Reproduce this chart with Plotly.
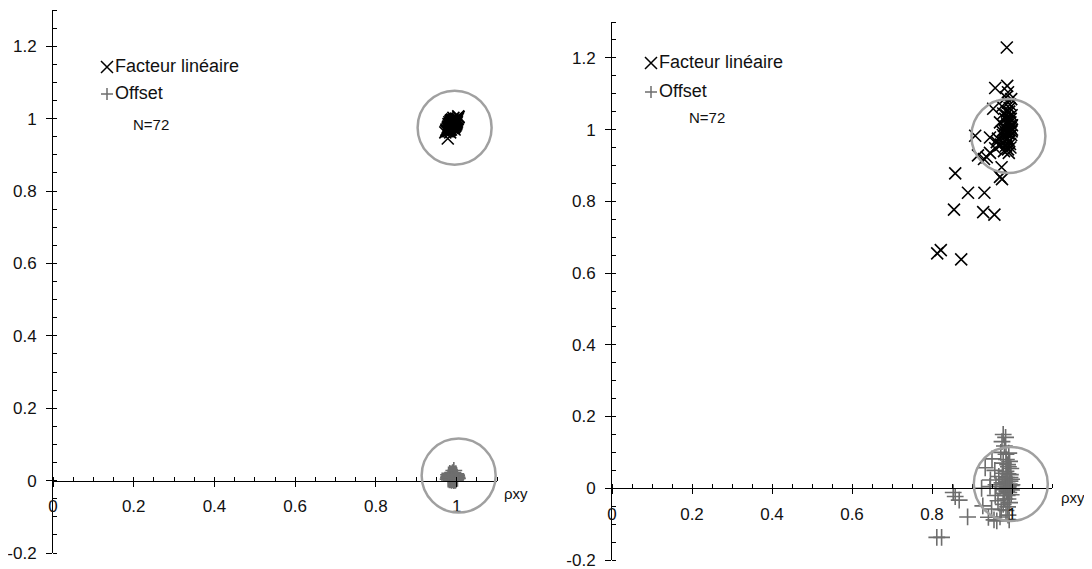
import plotly.graph_objects as go

# ---------------- data ----------------
left_fact_x = [0.978,
    0.972,0.976,0.980,0.983,0.986,0.989,0.992,0.995,0.998,1.001,
    0.978,0.982,0.985,0.988,0.991,0.994,0.997,1.000,1.003,1.005,
    0.980,0.984,0.987,0.990,0.993,0.996,0.999,0.986,0.989,0.992,
    0.975,0.979,0.983,0.987,0.990,0.993,0.996,0.999,0.981,0.984,
    0.987,0.990,0.993,0.996,0.985,0.988,0.991,0.994,0.997,1.000,
    0.982,0.985,0.988,0.991,0.994,0.997,0.979,0.983,0.986,0.989,
    0.992,0.995,0.998,1.002,0.977,0.974,0.981,0.984,0.995,1.004,0.990]
left_fact_y = [0.945,
    0.962,0.968,0.965,0.972,0.970,0.975,0.978,0.982,0.988,0.992,
    0.975,0.978,0.980,0.983,0.985,0.987,0.990,0.995,1.000,1.004,
    0.985,0.988,0.990,0.992,0.995,0.998,1.000,0.995,0.998,1.002,
    0.970,0.972,0.968,0.976,0.980,0.975,0.979,0.984,0.982,0.985,
    0.986,0.988,0.990,0.993,0.977,0.979,0.982,0.984,0.986,0.989,
    0.990,0.993,0.996,0.974,0.976,0.981,0.978,0.975,0.983,0.987,
    0.991,0.994,0.997,0.998,0.965,0.966,0.970,0.962,0.970,1.006,0.994]

left_off_x = [0.979,0.982,0.985,0.988,0.991,0.994,0.997,1.000,0.983,0.986,
    0.989,0.992,0.995,0.998,0.981,0.984,0.987,0.990,0.993,0.996,
    0.999,0.980,0.983,0.986,0.989,0.992,0.995,0.998,1.001,0.985,
    0.988,0.991,0.994,0.997,0.982,0.987,0.990,0.993,0.996,0.999,
    0.984,0.986,0.989,0.992,0.995,0.998,0.981,0.988,0.991,0.994,
    0.997,0.985,0.990,0.993,0.996,0.983,0.987,0.992,0.995,0.990,
    0.986,0.989,0.994,0.997,0.999,0.984,0.988,0.991,0.993,0.980,0.996,1.002]
left_off_y = [0.004,0.008,0.003,0.010,0.006,0.012,0.008,0.014,0.014,0.018,
    0.015,0.020,0.017,0.011,0.011,0.006,0.001,0.003,0.000,0.004,
    0.006,0.016,0.020,0.012,0.008,0.013,0.009,0.019,0.009,0.009,
    0.005,0.017,0.002,0.015,0.002,0.013,0.011,0.007,0.010,0.016,
    0.016,0.007,0.019,0.004,0.013,0.003,0.007,0.016,0.009,0.018,
    0.012,0.011,0.014,0.016,0.007,0.010,0.004,0.010,0.005,0.022,
    0.015,0.002,0.009,0.001,0.011,0.012,0.008,0.012,0.028,0.009,0.016,0.006]

right_fact_x = [0.987,0.958,0.988,0.990,0.953,0.908,0.945,0.915,0.937,0.858,
    0.974,0.970,0.975,0.890,0.931,0.855,0.928,0.956,0.813,0.822,
    0.873,0.930,0.945,0.958,0.972,0.965,0.978,0.985,0.990,0.995,
    0.982,0.990,0.998,0.975,0.985,0.992,1.000,0.980,0.988,0.996,
    0.970,0.983,0.991,0.999,0.978,0.987,0.994,0.975,0.990,0.998,
    0.985,0.993,0.987,0.997,0.981,0.994,0.989,0.977,0.968,0.996,
    0.992,0.984,0.999,0.990,0.986,0.995,0.980,0.962,0.997,0.993,0.988,1.000]
right_fact_y = [1.229,1.116,1.122,1.104,1.058,0.983,0.978,0.928,0.923,0.878,
    0.895,0.868,0.862,0.824,0.824,0.777,0.770,0.763,0.655,0.664,
    0.638,0.918,0.935,0.948,0.958,0.975,0.965,0.955,0.945,0.960,
    0.980,0.975,0.985,0.995,0.990,0.998,1.000,1.010,1.015,1.020,
    1.020,1.030,1.035,1.040,1.045,1.050,1.060,1.065,1.075,1.085,
    1.090,0.968,0.972,1.005,0.998,1.010,1.025,0.985,0.955,0.950,
    0.935,1.002,0.995,0.990,1.040,1.070,0.940,0.965,1.030,1.050,0.962,1.012]

right_off_x = [0.812,0.824,0.853,0.858,0.868,0.889,0.924,0.927,0.949,0.941,
    0.962,0.955,0.970,0.933,0.950,0.957,0.946,0.967,0.978,0.984,
    0.975,0.981,0.972,0.992,0.989,0.986,0.978,0.985,0.990,0.995,
    0.980,0.988,0.993,0.998,0.984,0.990,0.996,0.979,0.987,0.992,
    0.999,0.983,0.995,0.975,0.970,0.988,0.990,0.994,0.989,0.990,
    0.985,0.978,0.965,0.958,0.997,1.000,0.999,0.986,0.991,0.976,
    0.982,0.993,0.960,0.945,0.998,0.985,0.994,0.987,0.991,0.981,0.996,0.973]
right_off_y = [-0.137,-0.137,-0.012,-0.023,-0.033,-0.080,0.000,-0.049,-0.058,-0.081,
    -0.091,-0.088,-0.080,0.057,0.082,0.050,0.023,0.033,0.150,0.142,
    0.130,0.118,0.100,0.098,0.066,0.080,0.070,0.047,0.040,0.030,
    0.025,0.018,0.012,0.008,0.005,0.002,-0.002,-0.004,-0.008,-0.012,
    -0.005,0.012,0.020,0.015,0.005,-0.020,-0.030,-0.040,-0.052,-0.075,
    -0.062,-0.045,-0.035,-0.020,0.055,0.010,0.025,0.030,0.060,0.042,
    -0.030,-0.088,0.010,0.005,-0.018,0.095,0.075,0.000,0.005,-0.015,0.038,-0.060]

# circles (centre in data units) drawn around the clusters
left_circles = [(0.995, 0.975), (1.005, 0.014)]
right_circles = [(0.991, 0.982), (0.997, 0.012)]

x_tickvals = [0, 0.2, 0.4, 0.6, 0.8, 1.0]
x_ticktext = ["0", "0.2", "0.4", "0.6", "0.8", "1"]
y_tickvals = [-0.2, 0, 0.2, 0.4, 0.6, 0.8, 1.0, 1.2]
y_ticktext = ["-0.2", "0", "0.2", "0.4", "0.6", "0.8", "1", "1.2"]

series_names = ["Facteur linéaire", "Offset"]
n_label = "N=72"
axis_label = "ρxy"

# ---------------- figure ----------------
# the page body has an 8px margin, so the figure is drawn 8px smaller and
# all layout pixel positions below are given in window pixels minus 8.
OFF = 8
W, H = 1092 - OFF, 569 - OFF
FONT = "Liberation Sans, Arial, sans-serif"
X_COLOR = "#000000"
P_COLOR = "#6e6e6e"
C_COLOR = "#a0a0a0"

fig = go.Figure()

def add_panel(fx, fy, ox, oy, xa, ya):
    fig.add_trace(go.Scatter(x=fx, y=fy, mode="markers", xaxis=xa, yaxis=ya,
                             name=series_names[0], showlegend=False,
                             marker=dict(symbol="x-thin", size=12, color=X_COLOR,
                                         line=dict(width=1.6, color=X_COLOR))))
    fig.add_trace(go.Scatter(x=ox, y=oy, mode="markers", xaxis=xa, yaxis=ya,
                             name=series_names[1], showlegend=False,
                             marker=dict(symbol="cross-thin", size=12, color=P_COLOR,
                                         line=dict(width=1.6, color=P_COLOR))))

add_panel(left_fact_x, left_fact_y, left_off_x, left_off_y, "x", "y")
add_panel(right_fact_x, right_fact_y, right_off_x, right_off_y, "x2", "y2")

def px2x(p):
    return (p - OFF) / W

def py2y(p):
    return 1 - (p - OFF) / H

def xaxis_cfg(dom, pos):
    return dict(domain=dom, range=[0, 1.1], anchor="free", position=pos,
                showline=True, linecolor="black", linewidth=1, showgrid=False,
                zeroline=False, tickmode="array", tickvals=x_tickvals, ticktext=x_ticktext,
                ticks="outside", ticklen=5, tickwidth=1, tickcolor="black",
                ticklabelstandoff=5, ticklabeloverflow="allow",
                tickfont=dict(family=FONT, size=17, color="#111"),
                minor=dict(ticks="inside", ticklen=4, tickwidth=1, tickcolor="black",
                           tickmode="linear", tick0=0, dtick=0.05, showgrid=False),
                automargin=False, fixedrange=True)

def yaxis_cfg(dom, anchor):
    return dict(domain=dom, range=[-0.2, 1.3], anchor=anchor,
                showline=True, linecolor="black", linewidth=1, showgrid=False,
                zeroline=False, tickmode="array", tickvals=y_tickvals, ticktext=y_ticktext,
                ticks="outside", ticklen=6, tickwidth=1, tickcolor="black",
                ticklabelstandoff=6, ticklabeloverflow="allow",
                tickfont=dict(family=FONT, size=17, color="#111"),
                minor=dict(ticks="inside", ticklen=4, tickwidth=1, tickcolor="black",
                           tickmode="linear", tick0=0, dtick=0.05, showgrid=False),
                automargin=False, fixedrange=True)

# window pixels: left panel x 53..497, y 553..10 ; right x 612..1052, y 560..22
fig.update_layout(
    width=W, height=H,
    margin=dict(l=0, r=0, t=0, b=0),
    paper_bgcolor="white", plot_bgcolor="rgba(0,0,0,0)",
    showlegend=False,
    xaxis=xaxis_cfg([px2x(53), px2x(497)], py2y(480.6)),
    yaxis=yaxis_cfg([py2y(553), py2y(10)], "x"),
    xaxis2=xaxis_cfg([px2x(612), px2x(1052)], py2y(488.3)),
    yaxis2=yaxis_cfg([py2y(560), py2y(22)], "x2"),
)

shapes = []
for (cx, cy) in left_circles:
    shapes.append(dict(type="circle", xref="x", yref="y", xsizemode="pixel", ysizemode="pixel",
                       xanchor=cx, yanchor=cy, x0=-37, x1=37, y0=-37, y1=37,
                       line=dict(color=C_COLOR, width=2.5), layer="above"))
for (cx, cy) in right_circles:
    shapes.append(dict(type="circle", xref="x2", yref="y2", xsizemode="pixel", ysizemode="pixel",
                       xanchor=cx, yanchor=cy, x0=-37, x1=37, y0=-37, y1=37,
                       line=dict(color=C_COLOR, width=2.5), layer="above"))

# legend glyphs drawn as thin strokes (paper coords)
def glyph_x(cx, cy, r=6):
    x0, x1 = px2x(cx - r), px2x(cx + r)
    y0, y1 = py2y(cy - r), py2y(cy + r)
    p = f"M {x0} {y0} L {x1} {y1} M {x0} {y1} L {x1} {y0}"
    shapes.append(dict(type="path", xref="paper", yref="paper", path=p,
                       line=dict(color="#000", width=1.5)))

def glyph_plus(cx, cy, r=6):
    x0, x1, xm = px2x(cx - r), px2x(cx + r), px2x(cx)
    y0, y1, ym = py2y(cy - r), py2y(cy + r), py2y(cy)
    p = f"M {x0} {ym} L {x1} {ym} M {xm} {y0} L {xm} {y1}"
    shapes.append(dict(type="path", xref="paper", yref="paper", path=p,
                       line=dict(color=P_COLOR, width=1.5)))

ann = []
def text(px, py, s, size=17, color="#111", xanchor="left"):
    ann.append(dict(x=px2x(px), y=py2y(py), xref="paper", yref="paper", text=s,
                    showarrow=False, xanchor=xanchor, yanchor="middle",
                    font=dict(family=FONT, size=size, color=color)))

# legends
for (sx, fy, oy, ny, nx) in [(107, 67, 94, 125, 131), (651, 63, 92, 118, 687)]:
    glyph_x(sx, fy)
    text(sx + 6, fy - 1, series_names[0], size=18)
    glyph_plus(sx, oy)
    text(sx + 6, oy - 1, series_names[1], size=18)
    text(nx, ny, n_label, size=15)

text(502, 493, axis_label, size=15)
text(1059, 497, axis_label, size=15)

fig.update_layout(shapes=shapes, annotations=ann)

fig.write_html("out.html")
